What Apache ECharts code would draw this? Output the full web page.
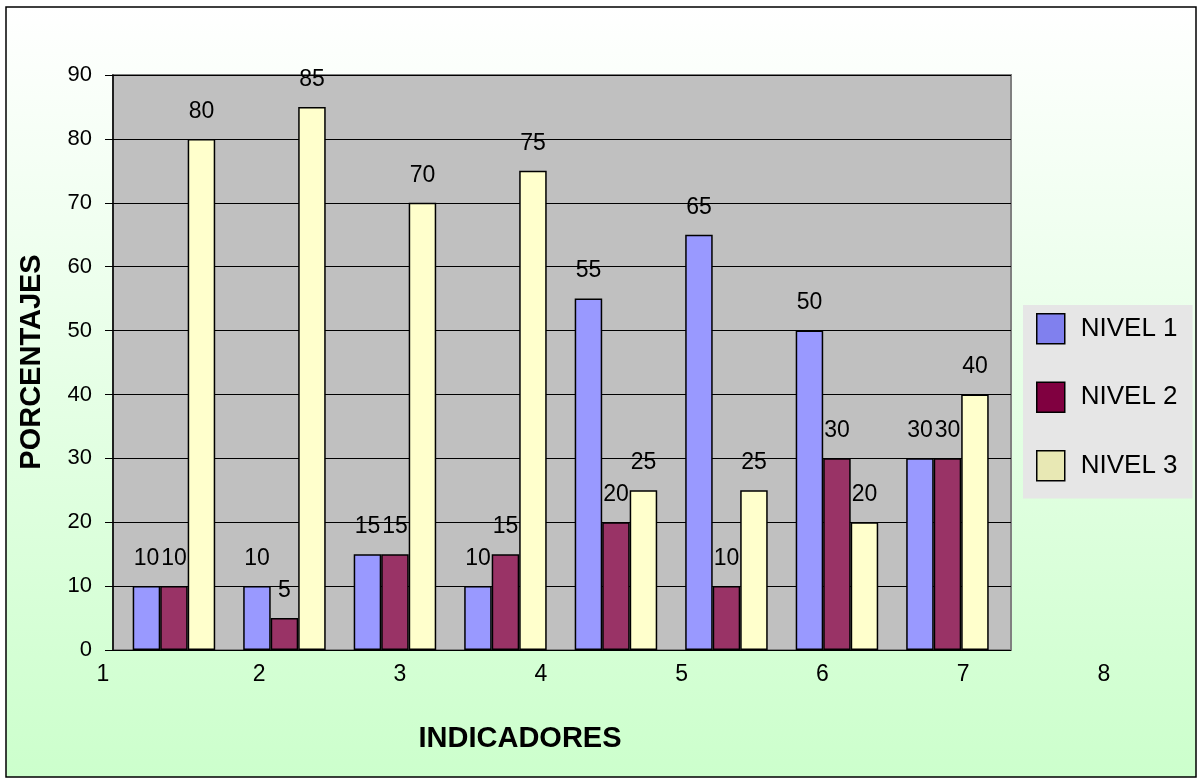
<!DOCTYPE html>
<html><head><meta charset="utf-8">
<script src="https://cdn.jsdelivr.net/npm/echarts@6/dist/echarts.min.js"></script>
<style>html,body{margin:0;padding:0;background:#fff}#c{width:1202px;height:783px}</style>
</head><body><div id="c"></div>
<script>
const categories = ['1','2','3','4','5','6','7','8'];
const nivel1 = [10, 10, 15, 10, 55, 65, 50, 30];
const nivel2 = [10, 5, 15, 15, 20, 10, 30, 30];
const nivel3 = [80, 85, 70, 75, 25, 25, 20, 40];
const seriesNames = ['NIVEL 1', 'NIVEL 2', 'NIVEL 3'];
const barColors = ['#9999FF', '#993366', '#FFFFCC'];
const legendColors = ['#8080EE', '#800040', '#E8E8B4'];
const yMin = 0, yMax = 90, yStep = 10;
const xTickMin = 1, xTickMax = 8;

const FONT = 'Liberation Sans, Arial, sans-serif';
const chart = echarts.init(document.getElementById('c'));

function barSeries(i, data) {
  return {
    name: seriesNames[i], type: 'bar', xAxisIndex: 1, yAxisIndex: 1,
    data: data, barWidth: 27.5, barGap: '0%',
    itemStyle: { color: barColors[i], borderColor: '#000', borderWidth: 1.5 },
    label: { show: true, position: 'top', distance: 16, color: '#000', fontSize: 23, fontFamily: FONT },
    emphasis: { disabled: true }
  };
}

const option = {
  animation: false,
  backgroundColor: '#fff',
  graphic: [
    { type: 'rect', z: -100, shape: { x: 6, y: 7, width: 1190, height: 770 },
      style: { fill: new echarts.graphic.LinearGradient(0, 0, 0, 1, [
        { offset: 0, color: '#FFFFFF' }, { offset: 1, color: '#CCFFCC' }]),
        stroke: '#000', lineWidth: 1.5 } },
    { type: 'text', x: 32, y: 362, rotation: Math.PI / 2,
      style: { text: 'PORCENTAJES', font: 'bold 29px ' + FONT, fill: '#000', textAlign: 'center', textVerticalAlign: 'middle' } },
    { type: 'text', x: 520, y: 739,
      style: { text: 'INDICADORES', font: 'bold 29px ' + FONT, fill: '#000', textAlign: 'center', textVerticalAlign: 'middle' } }
  ],
  legend: {
    orient: 'vertical', left: 1023, top: 305,
    backgroundColor: '#E6E6E6',
    padding: [8, 15, 17, 13],
    icon: 'rect',
    itemWidth: 28, itemHeight: 30, itemGap: 37,
    textStyle: { fontSize: 26, fontFamily: FONT, color: '#000', padding: [0, 0, 0, 11] },
    data: seriesNames.map((n, i) => ({ name: n, itemStyle: { color: legendColors[i], borderColor: '#000', borderWidth: 1.5 } }))
  },
  grid: [
    { left: 113, width: 898, top: 75, height: 575, show: true, backgroundColor: '#C0C0C0', borderColor: '#808080', borderWidth: 2 },
    { left: 118.7, width: 884, top: 75, height: 575 },
    { left: 118.4, width: 985.6, top: 75, height: 575 }
  ],
  xAxis: [
    { gridIndex: 0, type: 'value', min: 0, max: 1, show: false },
    { gridIndex: 1, type: 'category', data: categories, show: false },
    { gridIndex: 2, type: 'value', min: xTickMin, max: xTickMax, interval: 1,
      axisLine: { show: false }, axisTick: { show: false }, splitLine: { show: false },
      axisLabel: { margin: 13, fontSize: 23, fontFamily: FONT, color: '#000',
        formatter: v => v === xTickMin ? '{s|' + v + '}' : String(v),
        rich: { s: { padding: [0, 31, 0, 0], fontSize: 23, fontFamily: FONT, color: '#000' } } } }
  ],
  yAxis: [
    { gridIndex: 0, type: 'value', min: yMin, max: yMax, interval: yStep,
      axisLine: { show: true, lineStyle: { color: '#000', width: 1.5 } },
      axisTick: { show: true, length: 8, lineStyle: { color: '#000' } },
      splitLine: { show: true, lineStyle: { color: '#000', width: 1 } },
      axisLabel: { margin: 21, fontSize: 22, fontFamily: FONT, color: '#000' } },
    { gridIndex: 1, type: 'value', min: yMin, max: yMax, show: false },
    { gridIndex: 2, type: 'value', min: yMin, max: yMax, show: false }
  ],
  series: [barSeries(0, nivel1), barSeries(1, nivel2), barSeries(2, nivel3)]
};
chart.setOption(option);
</script></body></html>
